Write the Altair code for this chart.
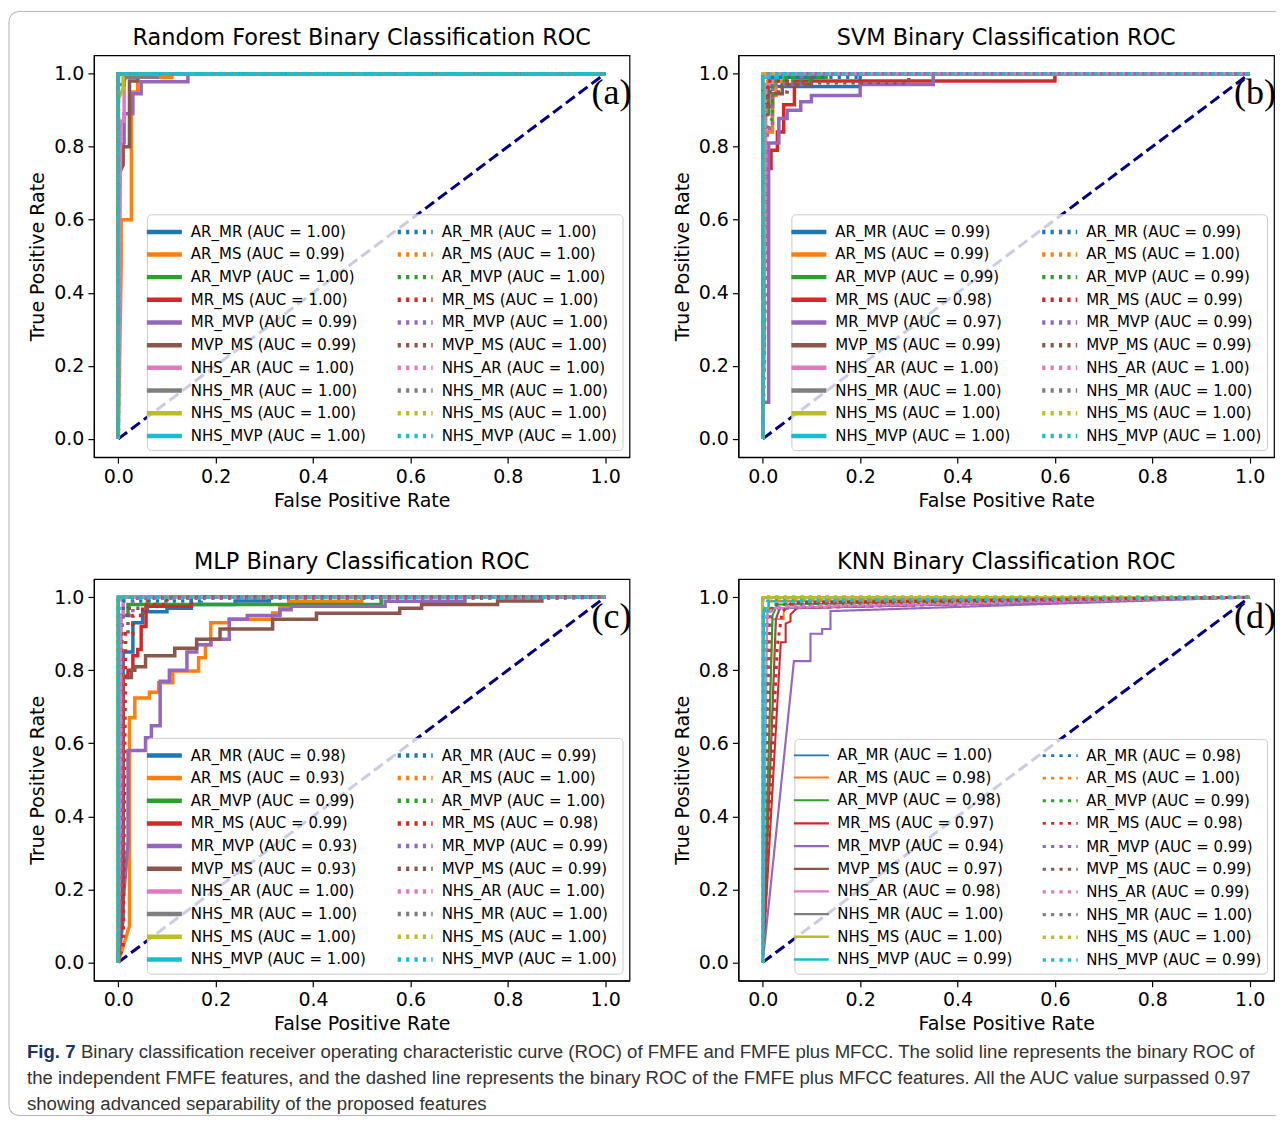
import math
import altair as alt
import pandas as pd

SERIES = ["AR_MR", "AR_MS", "AR_MVP", "MR_MS", "MR_MVP", "MVP_MS",
          "NHS_AR", "NHS_MR", "NHS_MS", "NHS_MVP"]
COLORS = ["#1f77b4", "#ff7f0e", "#2ca02c", "#d62728", "#9467bd",
          "#8c564b", "#e377c2", "#7f7f7f", "#bcbd22", "#17becf"]
TITLES = ["Random Forest Binary Classification ROC", "SVM Binary Classification ROC",
          "MLP Binary Classification ROC", "KNN Binary Classification ROC"]
TAGS = ["(a)", "(b)", "(c)", "(d)"]
TICKS = [0.0, 0.2, 0.4, 0.6, 0.8, 1.0]

P_F = [0, 0, 1]
P_T = [0, 1, 1]

# ---------------- (a) Random Forest ----------------
RF_AUC_SOLID = [1.00, 0.99, 1.00, 1.00, 0.99, 0.99, 1.00, 1.00, 1.00, 1.00]
RF_AUC_DOT = [1.00, 1.00, 1.00, 1.00, 1.00, 1.00, 1.00, 1.00, 1.00, 1.00]
RF_SOLID_FPR = [
    P_F,
    [0, 0.006, 0.006, 0.027, 0.027, 0.04, 0.04, 0.11, 0.11, 1],
    P_F,
    P_F,
    [0, 0, 0.012, 0.012, 0.03, 0.03, 0.047, 0.047, 0.143, 0.143, 1],
    [0, 0, 0.01, 0.01, 0.023, 0.023, 0.04, 0.04, 1],
    [0, 0.005, 0.012, 0.012, 0.02, 1],
    [0, 0, 0.012, 0.012, 0.08, 0.08, 1],
    [0, 0, 0.01, 0.01, 1],
    P_F,
]
RF_SOLID_TPR = [
    P_T,
    [0, 0.48, 0.60, 0.60, 0.95, 0.95, 0.99, 0.99, 1, 1],
    P_T,
    P_T,
    [0, 0.78, 0.81, 0.89, 0.89, 0.945, 0.945, 0.978, 0.978, 1, 1],
    [0, 0.72, 0.75, 0.80, 0.80, 0.98, 0.98, 1, 1],
    [0, 0.87, 0.87, 0.98, 1, 1],
    [0, 0.97, 0.97, 0.99, 0.99, 1, 1],
    [0, 0.93, 0.96, 1, 1],
    P_T,
]
RF_DOT_FPR = [P_F] * 10
RF_DOT_TPR = [P_T] * 10

# ---------------- (b) SVM ----------------
SVM_AUC_SOLID = [0.99, 0.99, 0.99, 0.98, 0.97, 0.99, 1.00, 1.00, 1.00, 1.00]
SVM_AUC_DOT = [0.99, 1.00, 0.99, 0.99, 0.99, 0.99, 1.00, 1.00, 1.00, 1.00]
SVM_SOLID_FPR = [
    [0, 0, 0.2, 0.2, 1],
    [0, 0, 0.02, 0.02, 0.027, 0.027, 0.05, 0.05, 1],
    [0, 0.005, 0.005, 0.012, 0.012, 0.13, 0.13, 1],
    [0, 0.005, 0.017, 0.017, 0.03, 0.03, 0.043, 0.043, 0.065, 0.065, 0.6, 0.6, 1],
    [0, 0, 0.012, 0.012, 0.033, 0.033, 0.05, 0.05, 0.078, 0.078, 0.1, 0.1, 0.2, 0.2, 0.35, 0.35, 1],
    [0, 0.005, 0.02, 0.02, 0.04, 0.04, 0.1, 0.1, 1],
    [0, 0.006, 0.006, 0.02, 0.02, 1],
    P_F,
    P_F,
    [0, 0, 0.04, 0.04, 1],
]
SVM_SOLID_TPR = [
    [0, 0.965, 0.965, 1, 1],
    [0, 0.84, 0.84, 0.94, 0.94, 0.98, 0.98, 1, 1],
    [0, 0.85, 0.89, 0.89, 0.99, 0.99, 1, 1],
    [0, 0.74, 0.74, 0.79, 0.79, 0.84, 0.84, 0.915, 0.915, 0.98, 0.98, 1, 1],
    [0, 0.1, 0.1, 0.81, 0.81, 0.877, 0.877, 0.90, 0.90, 0.923, 0.923, 0.94, 0.94, 0.97, 0.97, 1, 1],
    [0, 0.91, 0.91, 0.945, 0.945, 0.97, 0.97, 1, 1],
    [0, 0.76, 0.97, 0.97, 1, 1],
    P_T,
    P_T,
    [0, 0.99, 0.99, 1, 1],
]
SVM_DOT_FPR = [
    [0, 0, 0.02, 0.02, 0.2, 0.2, 1],
    [0, 0, 0.01, 0.01, 1],
    [0, 0.005, 0.02, 0.02, 0.1, 0.1, 1],
    [0, 0.005, 0.005, 0.01, 0.01, 0.05, 0.05, 1],
    [0, 0.01, 0.02, 0.02, 0.08, 0.08, 1],
    [0, 0, 0.01, 0.01, 0.05, 0.05, 0.3, 0.3, 1],
    [0, 0.005, 0.005, 1],
    P_F,
    P_F,
    P_F,
]
SVM_DOT_TPR = [
    [0, 0.95, 0.95, 0.99, 0.99, 1, 1],
    [0, 0.97, 0.97, 1, 1],
    [0, 0.83, 0.88, 0.98, 0.98, 1, 1],
    [0, 0.48, 0.92, 0.92, 0.98, 0.98, 1, 1],
    [0, 0.85, 0.85, 0.97, 0.97, 1, 1],
    [0, 0.88, 0.88, 0.95, 0.95, 0.975, 0.975, 1, 1],
    [0, 0.9, 1, 1],
    P_T,
    P_T,
    P_T,
]

# ---------------- (c) MLP ----------------
MLP_AUC_SOLID = [0.98, 0.93, 0.99, 0.99, 0.93, 0.93, 1.00, 1.00, 1.00, 1.00]
MLP_AUC_DOT = [0.99, 1.00, 1.00, 0.98, 0.99, 0.99, 1.00, 1.00, 1.00, 1.00]
MLP_SOLID_FPR = [
    [0, 0.01, 0.01, 0.03, 0.03, 0.05, 0.05, 0.1, 0.1, 0.15, 0.15, 0.24, 0.24, 0.31, 0.31, 1],
    [0, 0.023, 0.023, 0.034, 0.034, 0.064, 0.064, 0.083, 0.083, 0.112, 0.112, 0.165, 0.165,
     0.179, 0.179, 0.19, 0.19, 0.228, 0.228, 0.317, 0.317, 0.332, 0.332, 0.35, 0.35, 0.5, 0.5, 1],
    [0, 0, 0.005, 0.005, 0.02, 0.02, 0.54, 0.54, 1],
    [0, 0.01, 0.01, 0.02, 0.02, 0.03, 0.03, 0.04, 0.04, 0.047, 0.047, 0.057, 0.057, 0.15, 0.15, 1],
    [0, 0.02, 0.02, 0.056, 0.056, 0.068, 0.068, 0.086, 0.086, 0.105, 0.105, 0.141, 0.141, 0.161,
     0.161, 0.19, 0.19, 0.228, 0.228, 0.265, 0.265, 0.332, 0.332, 0.355, 0.355, 0.548, 0.548,
     0.712, 0.712, 1],
    [0, 0.01, 0.01, 0.027, 0.027, 0.034, 0.034, 0.056, 0.056, 0.116, 0.116, 0.161, 0.161, 0.209,
     0.209, 0.317, 0.317, 0.407, 0.407, 0.578, 0.578, 0.623, 0.623, 0.779, 0.779, 0.87, 0.87, 1],
    [0, 0.005, 0.005, 0.01, 0.01, 1],
    P_F,
    P_F,
    P_F,
]
MLP_SOLID_TPR = [
    [0, 0.12, 0.85, 0.85, 0.93, 0.93, 0.96, 0.96, 0.97, 0.97, 0.98, 0.98, 0.99, 0.99, 1, 1],
    [0, 0.10, 0.67, 0.67, 0.724, 0.724, 0.74, 0.74, 0.766, 0.766, 0.798, 0.798, 0.834, 0.834,
     0.87, 0.87, 0.93, 0.93, 0.94, 0.94, 0.957, 0.957, 0.975, 0.975, 0.989, 0.989, 1, 1],
    [0, 0.8, 0.8, 0.95, 0.95, 0.98, 0.98, 1, 1],
    [0, 0.4, 0.78, 0.78, 0.80, 0.80, 0.84, 0.84, 0.857, 0.857, 0.92, 0.92, 0.975, 0.975, 1, 1],
    [0, 0.33, 0.58, 0.58, 0.615, 0.615, 0.648, 0.648, 0.77, 0.77, 0.80, 0.80, 0.85, 0.85, 0.87,
     0.87, 0.885, 0.885, 0.94, 0.94, 0.95, 0.95, 0.966, 0.966, 0.975, 0.975, 0.989, 0.989, 1, 1],
    [0, 0.17, 0.78, 0.78, 0.80, 0.80, 0.81, 0.81, 0.84, 0.84, 0.86, 0.86, 0.885, 0.885, 0.913,
     0.913, 0.94, 0.94, 0.956, 0.956, 0.97, 0.97, 0.98, 0.98, 0.99, 0.99, 1, 1],
    [0, 0.5, 0.95, 0.95, 1, 1],
    P_T,
    P_T,
    P_T,
]
MLP_DOT_FPR = [
    [0, 0.005, 0.01, 0.01, 0.17, 0.17, 1],
    P_F,
    P_F,
    [0, 0.01, 0.015, 0.03, 0.03, 0.05, 0.05, 0.1, 0.1, 1],
    [0, 0.008, 0.008, 0.03, 0.03, 0.9, 1],
    [0, 0.006, 0.006, 0.02, 0.02, 0.06, 0.06, 1],
    [0, 0.004, 0.004, 1],
    P_F,
    P_F,
    P_F,
]
MLP_DOT_TPR = [
    [0, 0.9, 0.95, 0.99, 0.99, 1, 1],
    P_T,
    P_T,
    [0, 0.05, 0.9, 0.9, 0.95, 0.95, 0.98, 0.98, 1, 1],
    [0, 0.35, 0.95, 0.95, 0.997, 0.997, 1],
    [0, 0.6, 0.9, 0.9, 0.97, 0.97, 1, 1],
    [0, 0.7, 1, 1],
    P_T,
    P_T,
    P_T,
]

# ---------------- (d) KNN ----------------
KNN_AUC_SOLID = [1.00, 0.98, 0.98, 0.97, 0.94, 0.97, 0.98, 1.00, 1.00, 0.99]
KNN_AUC_DOT = [0.98, 1.00, 0.99, 0.98, 0.99, 0.99, 0.99, 1.00, 1.00, 0.99]
KNN_SOLID_FPR = [
    P_F,
    [0, 0.02, 0.043, 0.043, 1],
    [0, 0.02, 0.03, 1],
    [0, 0.037, 0.047, 0.047, 0.057, 0.057, 0.07, 1],
    [0, 0.064, 0.098, 0.098, 0.122, 0.122, 0.139, 0.139, 1],
    [0, 0.027, 0.035, 1],
    [0, 0.008, 0.01, 1],
    P_F,
    P_F,
    [0, 0.002, 0.012, 0.012, 1],
]
KNN_SOLID_TPR = [
    P_T,
    [0, 0.94, 0.94, 0.97, 1],
    [0, 0.95, 0.98, 1],
    [0, 0.877, 0.877, 0.928, 0.934, 0.953, 0.97, 1],
    [0, 0.825, 0.825, 0.90, 0.90, 0.913, 0.913, 0.962, 1],
    [0, 0.94, 0.97, 1],
    [0, 0.87, 0.97, 1],
    P_T,
    P_T,
    [0, 0.962, 0.962, 0.989, 1],
]
KNN_DOT_FPR = [
    [0, 0.005, 0.01, 0.04, 1],
    [0, 0.01, 0.015, 1],
    [0, 0.01, 0.02, 1],
    [0, 0.03, 0.04, 0.06, 1],
    [0, 0.008, 0.02, 1],
    [0, 0.015, 0.02, 1],
    [0, 0.005, 0.01, 0.04, 1],
    P_F,
    P_F,
    [0, 0.002, 0.01, 1],
]
KNN_DOT_TPR = [
    [0, 0.9, 0.96, 0.97, 1],
    [0, 0.93, 0.99, 1],
    [0, 0.95, 0.98, 1],
    [0, 0.87, 0.96, 0.985, 1],
    [0, 0.94, 0.97, 1],
    [0, 0.93, 0.98, 1],
    [0, 0.86, 0.96, 0.975, 1],
    P_T,
    P_T,
    [0, 0.96, 0.99, 1],
]

CAPTION_BOLD = "Fig. 7"
CAPTION_LINES = [
    "Binary classification receiver operating characteristic curve (ROC) of FMFE and FMFE plus MFCC. The solid line represents the binary ROC of",
    "the independent FMFE features, and the dashed line represents the binary ROC of the FMFE plus MFCC features. All the AUC value surpassed 0.97",
    "showing advanced separability of the proposed features",
]

# ---------------- styles / layout ----------------
W, H = 536, 402
COL_GAP, ROW_GAP = 109, 122
SOLID_W = 3.5
DOT_DASH = [3.2, 5.2]
KNN_SOLID_WIDTH = [1.8, 3.5, 1.8, 3.5, 3.5, 1.8, 3.5, 3.5, 1.8, 3.5]
KNN_DOT_WIDTH = [2.8] * 10

PANELS = [
    (RF_SOLID_FPR, RF_SOLID_TPR, RF_DOT_FPR, RF_DOT_TPR, RF_AUC_SOLID, RF_AUC_DOT, None),
    (SVM_SOLID_FPR, SVM_SOLID_TPR, SVM_DOT_FPR, SVM_DOT_TPR, SVM_AUC_SOLID, SVM_AUC_DOT, None),
    (MLP_SOLID_FPR, MLP_SOLID_TPR, MLP_DOT_FPR, MLP_DOT_TPR, MLP_AUC_SOLID, MLP_AUC_DOT, None),
    (KNN_SOLID_FPR, KNN_SOLID_TPR, KNN_DOT_FPR, KNN_DOT_TPR, KNN_AUC_SOLID, KNN_AUC_DOT,
     (KNN_SOLID_WIDTH, KNN_DOT_WIDTH)),
]


def make_panel(p):
    sf, st, df_, dt, auc_s, auc_d, widths = PANELS[p]
    rows = []
    keys_s, keys_d = [], []
    for kind, F, T, A, keys in (("s", sf, st, auc_s, keys_s), ("d", df_, dt, auc_d, keys_d)):
        for i, name in enumerate(SERIES):
            key = f"{p}{kind}{i:02d}|{name} (AUC = {A[i]:.2f})"
            keys.append(key)
            for j, (xv, yv) in enumerate(zip(F[i], T[i])):
                rows.append({"key": key, "fpr": xv, "tpr": yv, "idx": j})
    data = pd.DataFrame(rows)
    domain = keys_s + keys_d
    colors = COLORS + COLORS
    dashes = [[1, 0]] * 10 + [DOT_DASH] * 10
    sw = (list(widths[0]) + list(widths[1])) if widths else []
    legend = alt.Legend(
        title=None, orient="bottom-right", columns=2, offset=7, padding=5,
        symbolType="M-1.75,0L1.75,0", symbolSize=400, symbolStrokeWidth=4.5,
        labelFontSize=15, labelFont="DejaVu Sans", labelColor="black", labelLimit=400,
        labelOffset=14, columnPadding=22, rowPadding=2.7 if widths else 0.7,
        fillColor="rgba(255,255,255,0.8)", strokeColor="#cccccc", cornerRadius=4,
        labelExpr="split(datum.label, '|')[1]",
    )
    xenc = alt.X("fpr:Q", scale=alt.Scale(domain=[-0.05, 1.05], nice=False, zero=False),
                 axis=alt.Axis(title="False Positive Rate", values=TICKS, format=".1f",
                               grid=False, titlePadding=5))
    yenc = alt.Y("tpr:Q", scale=alt.Scale(domain=[-0.05, 1.05], nice=False, zero=False),
                 axis=alt.Axis(title="True Positive Rate", values=TICKS, format=".1f",
                               grid=False, titlePadding=6))
    diag = alt.Chart(pd.DataFrame({"fpr": [0, 1], "tpr": [0, 1]})).mark_line(
        color="navy", strokeDash=[11, 5], strokeWidth=3).encode(x=xenc, y=yenc)
    enc = dict(
        x=xenc, y=yenc,
        color=alt.Color("key:N", scale=alt.Scale(domain=domain, range=colors), legend=legend),
        strokeDash=alt.StrokeDash("key:N", scale=alt.Scale(domain=domain, range=dashes), legend=legend),
        order=alt.Order("idx:Q"),
        detail="key:N",
    )
    if widths:
        enc["strokeWidth"] = alt.StrokeWidth("key:N", scale=alt.Scale(domain=domain, range=sw),
                                             legend=legend)
        lines = alt.Chart(data).mark_line(strokeCap="butt").encode(**enc)
    else:
        lines = alt.Chart(data).mark_line(strokeWidth=SOLID_W, strokeCap="butt").encode(**enc)
    tag = alt.Chart(pd.DataFrame({"t": [TAGS[p]]})).mark_text(
        font="Liberation Serif", fontSize=36, align="right", baseline="middle", color="black"
    ).encode(text="t:N", x=alt.value(W + 2), y=alt.value(38))
    return alt.layer(diag, lines, tag).properties(
        width=W, height=H,
        title=alt.TitleParams(TITLES[p], fontSize=22.4, font="DejaVu Sans", fontWeight="normal",
                              color="black", offset=6, anchor="middle"),
    )


# caption cell: its view starts at the left edge of the lower-left plot, ROW_GAP below it;
# text / frame positions are pixel offsets relative to that view.
CAP_TOP = -51
cap_font = "Liberation Sans"
CAP_X0 = -67
cap_layers = [
    alt.Chart(pd.DataFrame({"t": [CAPTION_BOLD]})).mark_text(
        font=cap_font, fontSize=18.6, fontWeight="bold", color="#1b3564", align="left",
        baseline="middle").encode(text="t:N", x=alt.value(CAP_X0), y=alt.value(CAP_TOP)),
]
for k, line in enumerate(CAPTION_LINES):
    cap_layers.append(
        alt.Chart(pd.DataFrame({"t": [line]})).mark_text(
            font=cap_font, fontSize=18.6, color="#333333", align="left", baseline="middle"
        ).encode(text="t:N", x=alt.value(CAP_X0 + 54 if k == 0 else CAP_X0),
                 y=alt.value(CAP_TOP + 26 * k))
    )

FRAME = "#b5b5b5"
FL, FT, FR, FB, FRAD = -85, -1092, 1183, 13, 10
one = pd.DataFrame({"v": [0]})
frame_layers = [
    alt.Chart(one).mark_rule(color=FRAME, strokeWidth=1).encode(
        x=alt.value(FL + FRAD), x2=alt.value(FR), y=alt.value(FT)),
    alt.Chart(one).mark_rule(color=FRAME, strokeWidth=1).encode(
        x=alt.value(FL + FRAD), x2=alt.value(FR), y=alt.value(FB)),
    alt.Chart(one).mark_rule(color=FRAME, strokeWidth=1).encode(
        x=alt.value(FL), y=alt.value(FT + FRAD), y2=alt.value(FB - FRAD)),
    alt.Chart(one).mark_arc(color=FRAME, radius=FRAD + 0.5, radius2=FRAD - 0.5,
                            theta=1.5 * math.pi, theta2=2 * math.pi).encode(
        x=alt.value(FL + FRAD), y=alt.value(FT + FRAD)),
    alt.Chart(one).mark_arc(color=FRAME, radius=FRAD + 0.5, radius2=FRAD - 0.5,
                            theta=math.pi, theta2=1.5 * math.pi).encode(
        x=alt.value(FL + FRAD), y=alt.value(FB - FRAD)),
]

caption = alt.layer(*frame_layers, *cap_layers).properties(
    width=W, height=4, view=alt.ViewBackground(strokeOpacity=0))

RES = dict(color="independent", strokeDash="independent", strokeWidth="independent")

chart = alt.concat(
    make_panel(0), make_panel(1), make_panel(2), make_panel(3), caption,
    columns=2, spacing={"row": ROW_GAP, "column": COL_GAP}, bounds="flush",
).resolve_scale(**RES).properties(
    padding={"left": 0, "top": 2, "right": 0, "bottom": 0}
).configure_view(stroke="black", strokeWidth=1.2).configure_axis(
    labelFont="DejaVu Sans", titleFont="DejaVu Sans", labelFontSize=19, titleFontSize=19,
    labelColor="black", titleColor="black", tickColor="black", domainColor="black",
    tickSize=6, labelPadding=4, titleFontWeight="normal", domainWidth=1.2, tickWidth=1.2,
)

chart.save("out.html", embed_options={"renderer": "svg", "actions": False})
